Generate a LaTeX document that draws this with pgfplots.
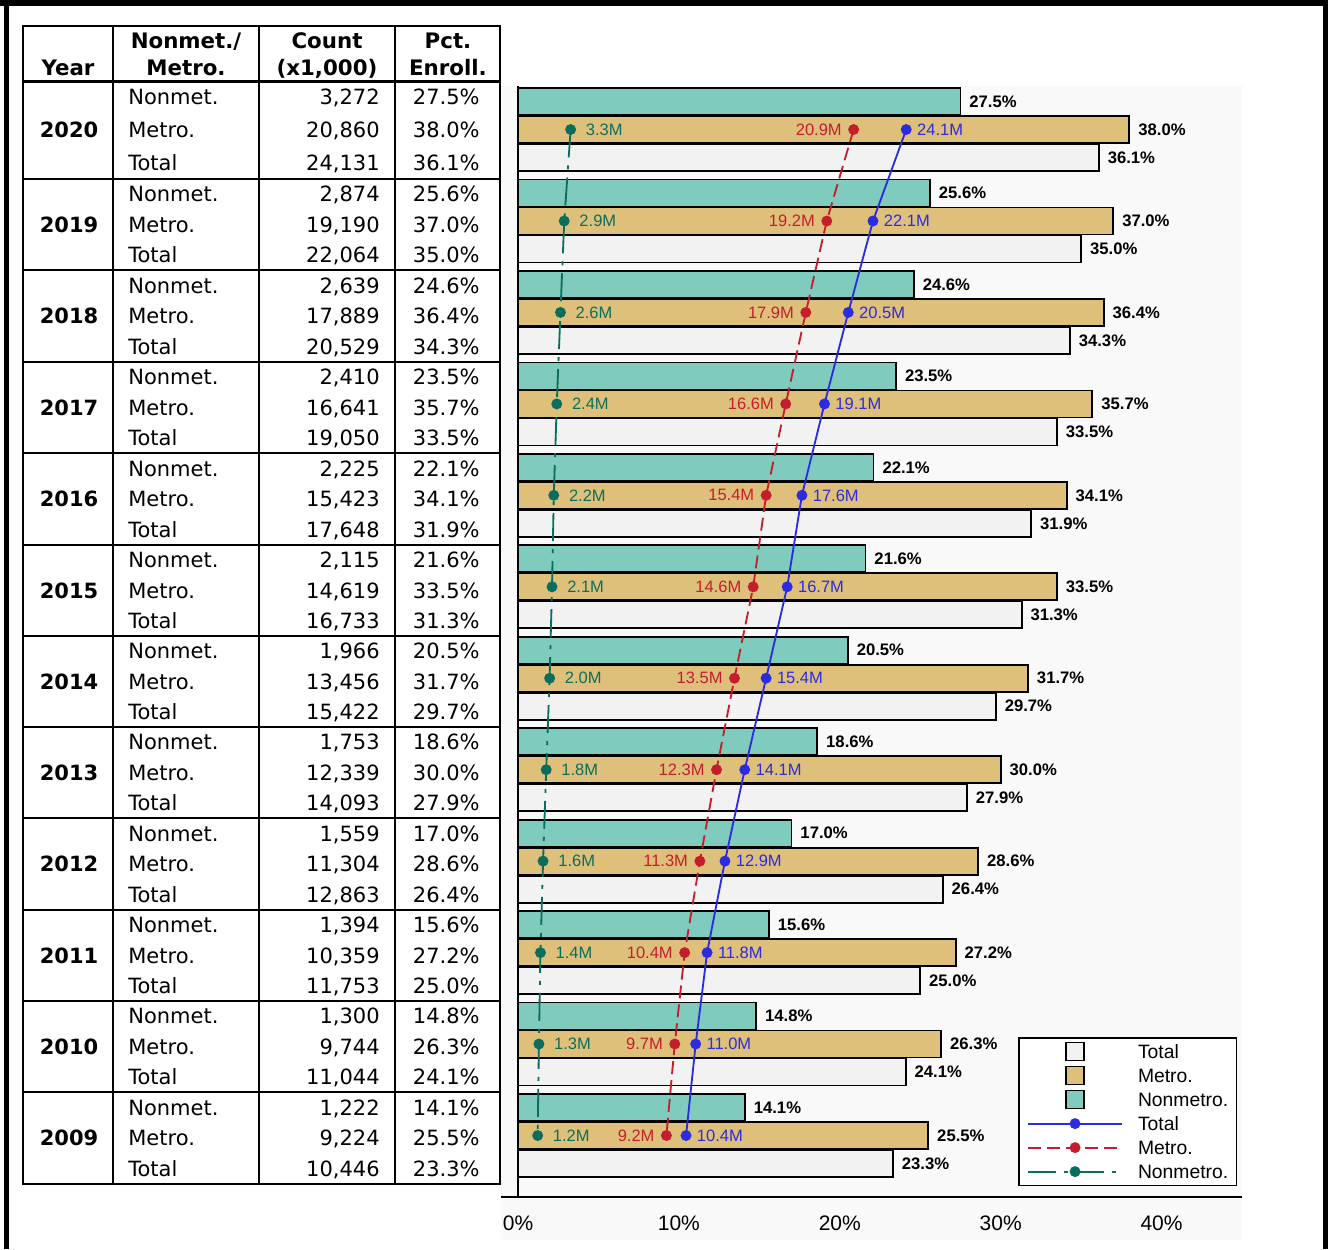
\documentclass[border=0pt]{standalone}
\usepackage{fontspec}
\setmainfont{Liberation Sans}
\newfontfamily\tabfont{DejaVu Sans}
\usepackage{pgfplots}
\usepackage{pgfplotstable}
\pgfplotsset{compat=1.18}
\definecolor{tealbar}{HTML}{7FCBBD}
\definecolor{tanbar}{HTML}{DFC07A}
\definecolor{graybar}{HTML}{F2F2F2}
\definecolor{lblue}{HTML}{2B2BE0}
\definecolor{lred}{HTML}{C41E2E}
\definecolor{lteal}{HTML}{0B6E5C}
\newcommand\tabsize{\fontsize{12.6}{15}\selectfont}
\newcommand\barfont{\bfseries\fontsize{10}{12}\selectfont}
\newcommand\cntfont{\fontsize{9.9}{12}\selectfont}
\pgfplotsset{
  linelegend/.style={legend image code/.code={\draw[mark repeat=2,mark phase=2,##1,line width=1.1pt] plot coordinates {(0pt,0pt) (28.2pt,0pt) (56.4pt,0pt)};}},
  boxlegend/.style={legend image code/.code={\draw[fill=#1,draw=black,line width=0.9pt] (22.8pt,-5.4pt) rectangle (33.6pt,5.4pt);}},
}

\pgfplotstableread{
yr   y      nm    me     to     pnm  pme  pto  lnm lme  lto
2020 129.5  3.272 20.860 24.131 27.5 38.0 36.1 3.3 20.9 24.1
2019 221.0  2.874 19.190 22.064 25.6 37.0 35.0 2.9 19.2 22.1
2018 312.4  2.639 17.889 20.529 24.6 36.4 34.3 2.6 17.9 20.5
2017 403.9  2.410 16.641 19.050 23.5 35.7 33.5 2.4 16.6 19.1
2016 495.3  2.225 15.423 17.648 22.1 34.1 31.9 2.2 15.4 17.6
2015 586.8  2.115 14.619 16.733 21.6 33.5 31.3 2.1 14.6 16.7
2014 678.2  1.966 13.456 15.422 20.5 31.7 29.7 2.0 13.5 15.4
2013 769.7  1.753 12.339 14.093 18.6 30.0 27.9 1.8 12.3 14.1
2012 861.1  1.559 11.304 12.863 17.0 28.6 26.4 1.6 11.3 12.9
2011 952.6  1.394 10.359 11.753 15.6 27.2 25.0 1.4 10.4 11.8
2010 1044.0 1.300 9.744  11.044 14.8 26.3 24.1 1.3 9.7  11.0
2009 1135.5 1.222 9.224  10.446 14.1 25.5 23.3 1.2 9.2  10.4
}\data

\begin{document}
\begin{tikzpicture}
\begin{scope}[x=0.6pt,y=-0.6pt]
\useasboundingbox (0,0) rectangle (1328,1249);
\fill[black!2.5] (501,86) rectangle (1242,1240);
% outer frame
\draw[line width=3.6pt] (0,3) -- (1328,3);
\draw[line width=3pt] (6,0) -- (6,1249);
\draw[line width=3pt] (1325,0) -- (1325,1249);
% table header
\begin{scope}[every node/.style={font=\tabfont\bfseries\fontsize{12.8}{15}\selectfont, anchor=base}]
\node at (68,75) {Year};
\node at (186,48.6) {Nonmet./};
\node at (186,75) {Metro.};
\node at (327,48.6) {Count};
\node at (327,75) {(x1,000)};
\node at (448,48.6) {Pct.};
\node at (448,75) {Enroll.};
\end{scope}
% table body
\foreach \yr/\m/\a/\b/\c/\pa/\pb/\pc [count=\i] in {
 2020/130/{3,272}/{20,860}/{24,131}/27.5/38.0/36.1,
 2019/224.5/{2,874}/{19,190}/{22,064}/25.6/37.0/35.0,
 2018/316/{2,639}/{17,889}/{20,529}/24.6/36.4/34.3,
 2017/407.5/{2,410}/{16,641}/{19,050}/23.5/35.7/33.5,
 2016/499/{2,225}/{15,423}/{17,648}/22.1/34.1/31.9,
 2015/590.5/{2,115}/{14,619}/{16,733}/21.6/33.5/31.3,
 2014/681.5/{1,966}/{13,456}/{15,422}/20.5/31.7/29.7,
 2013/772.5/{1,753}/{12,339}/{14,093}/18.6/30.0/27.9,
 2012/864/{1,559}/{11,304}/{12,863}/17.0/28.6/26.4,
 2011/955.5/{1,394}/{10,359}/{11,753}/15.6/27.2/25.0,
 2010/1046.5/{1,300}/{9,744}/{11,044}/14.8/26.3/24.1,
 2009/1138/{1,222}/{9,224}/{10,446}/14.1/25.5/23.3}{
  \pgfmathsetmacro\d{\i==1 ? 33 : 30.5}
  \node[anchor=base, font=\tabfont\bfseries\tabsize] at (69,\m+7.6) {\yr};
  \node[anchor=base west, inner sep=0pt, font=\tabfont\tabsize] at (128,\m-\d+7.6) {Nonmet.};
  \node[anchor=base west, inner sep=0pt, font=\tabfont\tabsize] at (128,\m+7.6) {Metro.};
  \node[anchor=base west, inner sep=0pt, font=\tabfont\tabsize] at (128,\m+\d+7.6) {Total};
  \node[anchor=base east, inner sep=0pt, font=\tabfont\tabsize] at (380,\m-\d+7.6) {\a};
  \node[anchor=base east, inner sep=0pt, font=\tabfont\tabsize] at (380,\m+7.6) {\b};
  \node[anchor=base east, inner sep=0pt, font=\tabfont\tabsize] at (380,\m+\d+7.6) {\c};
  \node[anchor=base east, inner sep=0pt, font=\tabfont\tabsize] at (480,\m-\d+7.6) {\pa\%};
  \node[anchor=base east, inner sep=0pt, font=\tabfont\tabsize] at (480,\m+7.6) {\pb\%};
  \node[anchor=base east, inner sep=0pt, font=\tabfont\tabsize] at (480,\m+\d+7.6) {\pc\%};
}
% table lines
\foreach \yy in {179,270,362,453,545,636,727,818,910,1001,1092}
  \draw[line width=1pt] (23,\yy) -- (500,\yy);
\draw[line width=1.8pt] (23,81) -- (500,81);
\foreach \xx in {113,259,395}
  \draw[line width=1pt] (\xx,26) -- (\xx,1184);
\draw[line width=1.3pt] (23,26) rectangle (500,1184);
\end{scope}

\begin{axis}[
  at={(310.8pt,-718.2pt)}, anchor=south west,
  width=434.4pt, height=666.6pt, scale only axis,
  xmin=0, xmax=45, ymin=86, ymax=1197, y dir=reverse,
  axis line style={draw=none}, major tick length=0pt,
  xtick={0,10,20,30,40}, xticklabels={0\%,10\%,20\%,30\%,40\%},
  ytick=\empty,
  xticklabel style={font=\fontsize{12.6}{14}\selectfont, anchor=north, inner sep=0pt, yshift=-11pt},
  clip=false,
  legend style={at={(0.9931,0.0099)}, anchor=south east, draw=black, line width=0.9pt, fill=white,
    font=\fontsize{11.6}{13}\selectfont, inner xsep=4.8pt, inner ysep=1pt, row sep=0pt, column sep=9pt,
    nodes={inner sep=0pt, text height=11.25pt, text depth=3.15pt}},
  legend cell align=left,
]
% bars
\addplot[xbar, bar shift=0pt, bar width=27, fill=graybar, draw=black, line width=1.1pt,
  point meta=explicit symbolic, nodes near coords={\pgfplotspointmeta\%},
  nodes near coords style={anchor=west, xshift=1.5pt, font=\barfont, text=black}, boxlegend=graybar]
  table[x=pto, y expr=\thisrow{y}+28, meta=pto] {\data};
\addplot[xbar, bar shift=0pt, bar width=27, fill=tanbar, draw=black, line width=1.1pt,
  point meta=explicit symbolic, nodes near coords={\pgfplotspointmeta\%},
  nodes near coords style={anchor=west, xshift=1.5pt, font=\barfont, text=black}, boxlegend=tanbar]
  table[x=pme, y=y, meta=pme] {\data};
\addplot[xbar, bar shift=0pt, bar width=27, fill=tealbar, draw=black, line width=1.1pt,
  point meta=explicit symbolic, nodes near coords={\pgfplotspointmeta\%},
  nodes near coords style={anchor=west, xshift=1.5pt, font=\barfont, text=black}, boxlegend=tealbar]
  table[x=pnm, y expr=\thisrow{y}-28, meta=pnm] {\data};
% lines
\addplot[color=lblue, line width=1.1pt, mark=*, mark size=2.7pt, mark options={solid},
  point meta=explicit symbolic, nodes near coords={\pgfplotspointmeta M},
  nodes near coords style={anchor=west, xshift=6pt, inner sep=0pt, font=\cntfont, text=lblue},
  linelegend]
  table[x=to, y=y, meta=lto] {\data};
\addplot[color=lred, line width=1.1pt, dash pattern=on 7.8pt off 3.6pt, mark=*, mark size=2.7pt, mark options={solid},
  point meta=explicit symbolic, nodes near coords={\pgfplotspointmeta M},
  nodes near coords style={anchor=east, xshift=-6.6pt, inner sep=0pt, font=\cntfont, text=lred},
  linelegend]
  table[x=me, y=y, meta=lme] {\data};
\addplot[color=lteal, line width=1.1pt, dash pattern=on 16.8pt off 4.8pt on 2.4pt off 4.8pt, mark=*, mark size=2.7pt, mark options={solid},
  point meta=explicit symbolic, nodes near coords={\pgfplotspointmeta M},
  nodes near coords style={anchor=west, xshift=8.6pt, inner sep=0pt, font=\cntfont, text=lteal},
  linelegend]
  table[x=nm, y=y, meta=lnm] {\data};
\legend{Total,Metro.,Nonmetro.,Total,Metro.,Nonmetro.}
\end{axis}
\begin{scope}[x=0.6pt,y=-0.6pt]
\draw[line width=1.2pt] (501,1197) -- (1242,1197);
\draw[line width=1.2pt] (518,86) -- (518,1197);
\end{scope}
\end{tikzpicture}
\end{document}
